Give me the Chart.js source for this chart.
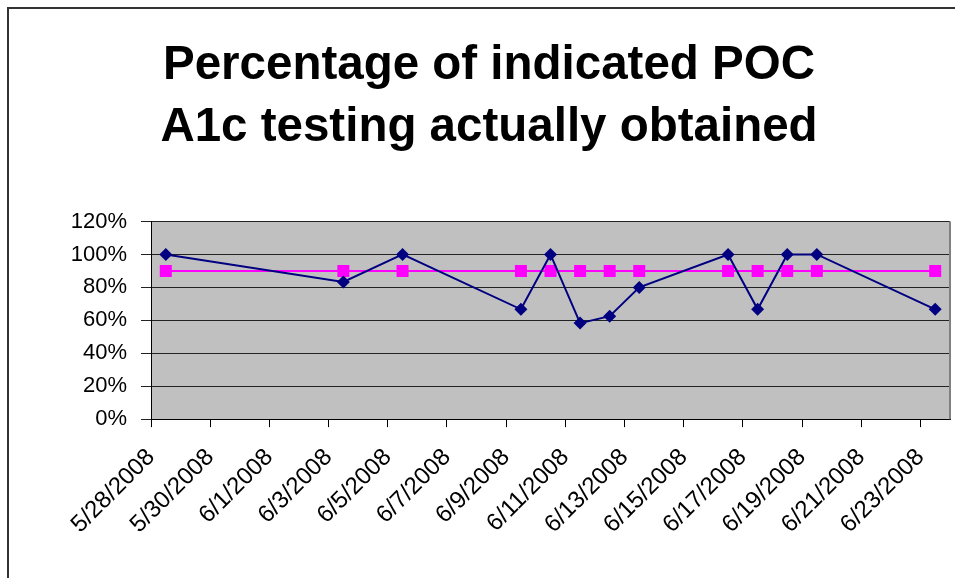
<!DOCTYPE html>
<html>
<head>
<meta charset="utf-8">
<script src="https://cdn.jsdelivr.net/npm/chart.js@4/dist/chart.umd.min.js"></script>
<style>
  html, body { margin: 0; padding: 0; background: #fff; overflow: hidden; width: 955px; height: 578px; }
  #frame { position: absolute; left: 7px; top: 7px; width: 960px; height: 600px; border: 2px solid #333; box-sizing: content-box; }
  #c { display: block; }
</style>
</head>
<body>
<div id="frame"><canvas id="c" width="960" height="569"></canvas></div>
<script>
// ---- data ----
const dates = ['2008-05-28','2008-06-03','2008-06-05','2008-06-09','2008-06-10','2008-06-11','2008-06-12','2008-06-13','2008-06-16','2008-06-17','2008-06-18','2008-06-19','2008-06-23'];
const obtained = [100, 83.3, 100, 66.7, 100, 58.3, 62.5, 80, 100, 66.7, 100, 100, 66.7];
const target = [90, 90, 90, 90, 90, 90, 90, 90, 90, 90, 90, 90, 90];
const tickLabels = ['5/28/2008','5/30/2008','6/1/2008','6/3/2008','6/5/2008','6/7/2008','6/9/2008','6/11/2008','6/13/2008','6/15/2008','6/17/2008','6/19/2008','6/21/2008','6/23/2008'];
const yTicks = [0, 20, 40, 60, 80, 100, 120];
const titleLines = ['Percentage of indicated POC', 'A1c testing actually obtained'];

// ---- helpers ----
const DAY = 86400000;
const t0 = Date.UTC(2008, 4, 28);
function dayOffset(s) {
  const p = s.split('-').map(Number);
  return (Date.UTC(p[0], p[1] - 1, p[2]) - t0) / DAY;
}
function labelDay(l) {
  const p = l.split('/').map(Number);
  return (Date.UTC(p[2], p[0] - 1, p[1]) - t0) / DAY;
}
const tickDays = tickLabels.map(labelDay);
const axisEnd = dayOffset('2008-06-24');
const pts = arr => dates.map((d, i) => ({ x: dayOffset(d) + 0.5, y: arr[i] }));

const plotBg = {
  id: 'plotBg',
  beforeDraw(chart) {
    const { ctx, chartArea: a } = chart;
    ctx.save();
    ctx.fillStyle = '#C0C0C0';
    ctx.fillRect(a.left, a.top, a.right - a.left, a.bottom - a.top);
    ctx.restore();
  },
  beforeDatasetsDraw(chart) {
    const { ctx, chartArea: a } = chart;
    ctx.save();
    ctx.strokeStyle = '#808080';
    ctx.lineWidth = 2;
    ctx.beginPath();
    ctx.moveTo(a.right, a.top);
    ctx.lineTo(a.right, a.bottom);
    ctx.stroke();
    ctx.restore();
  }
};

const labelMap = {};
tickDays.forEach((d, i) => labelMap[d] = tickLabels[i]);

new Chart(document.getElementById('c'), {
  type: 'line',
  data: {
    datasets: [
      {
        label: 'Obtained',
        data: pts(obtained),
        borderColor: '#000080',
        backgroundColor: '#000080',
        borderWidth: 2,
        pointStyle: 'rectRot',
        pointRadius: 6.5,
        pointBorderWidth: 0,
        tension: 0
      },
      {
        label: 'Target',
        data: pts(target),
        borderColor: '#FF00FF',
        backgroundColor: '#FF00FF',
        borderWidth: 2,
        pointStyle: 'rect',
        pointRadius: 8.5,
        pointBorderWidth: 0,
        tension: 0
      }
    ]
  },
  options: {
    responsive: false,
    animation: false,
    layout: { padding: { left: 19, right: 19, top: 0, bottom: 23 } },
    plugins: {
      legend: { display: false },
      tooltip: { enabled: false },
      title: {
        display: true,
        text: titleLines,
        color: '#000',
        font: { family: 'Liberation Sans, Arial, sans-serif', size: 47.5, weight: 'bold', lineHeight: 1.3 },
        padding: { top: 26, bottom: 63 }
      }
    },
    scales: {
      x: {
        type: 'linear',
        min: 0,
        max: axisEnd,
        afterBuildTicks(scale) { scale.ticks = tickDays.map(v => ({ value: v })); },
        ticks: {
          callback: v => labelMap[v] || '',
          minRotation: 45,
          maxRotation: 45,
          autoSkip: false,
          color: '#000',
          padding: 16,
          font: { family: 'Liberation Sans, Arial, sans-serif', size: 24 }
        },
        grid: { drawOnChartArea: false, drawTicks: true, tickLength: 8, color: '#000', lineWidth: 1 },
        border: { display: true, color: '#000', width: 1 }
      },
      y: {
        min: 0,
        max: 120,
        afterBuildTicks(scale) { scale.ticks = yTicks.map(v => ({ value: v })); },
        afterFit(scale) { scale.width = 123; },
        ticks: {
          callback: v => v + '%',
          color: '#000',
          padding: 14,
          font: { family: 'Liberation Sans, Arial, sans-serif', size: 22 }
        },
        grid: { color: '#222', lineWidth: 1, tickLength: 10, drawTicks: true },
        border: { display: true, color: '#000', width: 1 }
      }
    }
  },
  plugins: [plotBg]
});
</script>
</body>
</html>
